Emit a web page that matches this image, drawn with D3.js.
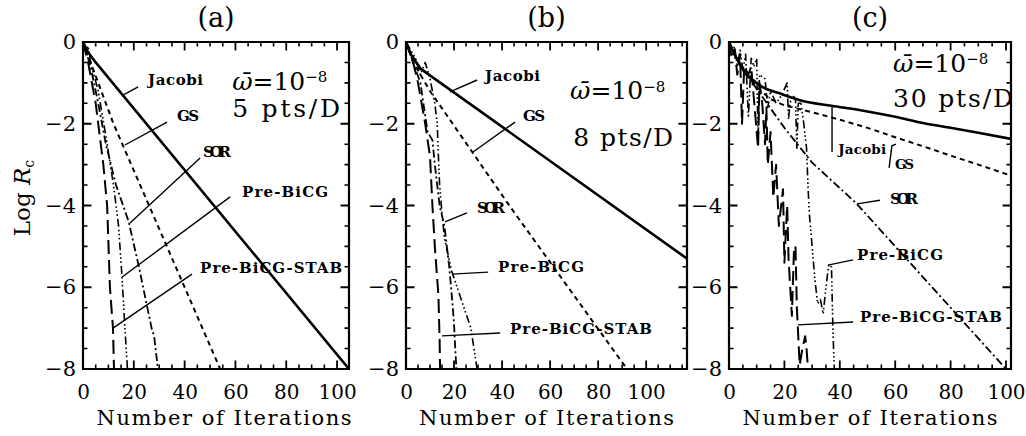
<!DOCTYPE html>
<html><head><meta charset="utf-8">
<script src="https://cdn.jsdelivr.net/npm/d3@7"></script>
<style>body{margin:0;background:#fff}svg text{font-family:"DejaVu Serif",serif;fill:#000}</style>
</head><body><svg id="c" width="1026" height="436"></svg>
<script>
// ---------- DATA ([iteration, log Rc]) ----------
const panelTitles = ["(a)", "(b)", "(c)"];
const resolutions = ["5 pts/D", "8 pts/D", "30 pts/D"];
const xMaxes = [104.7, 117, 101.8];
const xTickValues = [0, 20, 40, 60, 80, 100];
const yTickValues = [0, -2, -4, -6, -8];
const methodNames = ["Jacobi", "GS", "SOR", "Pre-BiCG", "Pre-BiCG-STAB"];

// panel (a) 5 pts/D
const jacobiA = [[0,0],[2,-0.25],[5,-0.5],[104.7,-8]];
const gsA     = [[0,0],[3,-0.5],[12,-2],[26,-4],[54,-8]];
const sorA    = [[0,0],[3,-0.6],[6,-1.5],[9,-2.5],[13,-3.5],[18,-4.4],[22,-5.5],[27,-7.0],[28,-7.2],[29.5,-8]];
const bicgA   = [[0,0],[1,-0.2],[2,-0.1],[3,-0.5],[6,-1.2],[9,-2.3],[12,-3.5],[14,-4.5],[15.3,-5.7],[16.5,-7],[17.5,-8]];
const stabA   = [[0,0],[2,-0.5],[5,-1.5],[8,-3],[9.5,-4],[10.6,-6],[11.8,-7],[12.2,-8]];

// panel (b) 8 pts/D
const jacobiB = [[0,0],[2,-0.3],[6,-0.65],[117,-5.3]];
const gsB     = [[0,0],[3,-0.5],[10,-1.2],[43,-4],[92,-8]];
const sorB    = [[0,0],[3,-0.5],[6,-1.0],[8,-1.8],[9,-2.2],[11,-2.4],[12,-3],[14,-4],[16,-4.5],[18,-5.5],[19.5,-6.5],[20,-6.9],[20.5,-7.5],[21,-8]];
const bicgB   = [[0,0],[4,-0.4],[6,-0.8],[8,-0.5],[10,-0.9],[12,-1.5],[13,-2],[13.5,-2.8],[14,-3.5],[15,-4.2],[16,-4.8],[19,-5.6],[23,-6.3],[27,-7],[29.6,-8]];
const stabB   = [[0,0],[3,-0.5],[5,-1],[8,-2],[10,-2.8],[11,-4],[12,-5],[13.5,-6.2],[14,-7.3],[14.2,-8]];

// panel (c) 30 pts/D
const jacobiC = [[0,0],[2,-0.3],[4,-0.55],[6,-0.78],[9,-0.95],[12,-1.1],[18,-1.25],[27,-1.45],[37,-1.56],[50,-1.7],[60,-1.83],[70,-1.98],[80,-2.1],[90,-2.22],[101.8,-2.37]];
const gsC     = [[0,0],[3,-0.4],[6,-0.75],[10,-1.1],[15,-1.4],[20,-1.55],[30,-1.72],[40,-1.9],[50,-2.1],[60,-2.33],[70,-2.55],[80,-2.78],[90,-3.0],[101.8,-3.27]];
const sorC    = [[0,0],[2,-0.3],[5,-0.65],[10,-1.15],[20,-2.1],[30,-2.95],[46,-3.95],[60,-5.0],[80,-6.5],[100,-8]];
const bicgC   = [[0,0],[1,-0.3],[2,-0.1],[3,-0.6],[4,-0.2],[5,-0.7],[6,-0.3],[7,-1.85],[8,-0.4],[9,-0.6],[10,-0.4],[10.5,-2.5],[11,-0.8],[13,-0.9],[14,-1.6],[15,-1.2],[17,-1.5],[19,-1.3],[21,-1.0],[21.5,-1.9],[22,-1.5],[23,-1.3],[24,-1.4],[24.5,-2.6],[25,-1.5],[26,-1.5],[27,-2.0],[28,-2.6],[28.5,-3.5],[29,-4.2],[30,-5],[31,-5.8],[32,-6.4],[33,-6.3],[34,-6.65],[35,-6.0],[36,-5.45],[37,-5.5],[37.5,-7],[38,-8]];
const stabC   = [[0,0],[1,-0.4],[2,-0.2],[3,-0.8],[4,-0.3],[4.7,-2.0],[5.5,-0.6],[7,-0.8],[8,-0.6],[10.5,-2.6],[11,-1.0],[12,-1.5],[13,-2.5],[13.5,-1.6],[14,-3.0],[15,-2.2],[16,-3.8],[17,-3.0],[18,-4.5],[19.5,-3.6],[20,-5.4],[21,-4.0],[21.5,-5.3],[22.7,-6.7],[23.5,-5.0],[24,-5.0],[24.5,-6.5],[25.5,-7.9],[26.5,-7.5],[27.5,-7.2],[28,-7.5],[28.5,-8]];

const seriesA = [jacobiA, gsA, sorA, bicgA, stabA];
const seriesB = [jacobiB, gsB, sorB, bicgB, stabB];
const seriesC = [jacobiC, gsC, sorC, bicgC, stabC];

// ---------- ANNOTATIONS (data coordinates) ----------
const notesA = [
  {t:0, at:[25.6,-0.93], lead:[[21.7,-1.10],[15.7,-1.30]]},
  {t:1, at:[37,-1.79],   lead:[[33.1,-1.96],[16.5,-2.52]]},
  {t:2, at:[47.2,-2.69], lead:[[46.1,-2.84],[18.5,-4.43]]},
  {t:3, at:[62.6,-3.65], lead:[[57.9,-3.79],[15.4,-5.75]]},
  {t:4, at:[46.1,-5.53], lead:[[42.9,-5.68],[11.8,-7.0]]}
];
const notesB = [
  {t:0, at:[32.9,-0.81], lead:[[29.6,-0.93],[18.3,-1.22]]},
  {t:1, at:[48.75,-1.79],lead:[[45.4,-1.96],[27.9,-2.69]]},
  {t:2, at:[29.6,-4.04], lead:[[25.4,-4.18],[16.25,-4.40]]},
  {t:3, at:[38.3,-5.5],  lead:[[34.2,-5.63],[19.2,-5.68]]},
  {t:4, at:[43.3,-7.0],  lead:[[39.2,-7.12],[15,-7.19]]}
];
const notesC = [
  {t:0, at:[39.4,-2.62], lead:[[37.2,-2.69],[37.2,-1.54]]},
  {t:1, at:[59.9,-2.98], lead:[[57.8,-3.08],[58.8,-2.54],[60.3,-2.5]]},
  {t:2, at:[58.1,-3.82], lead:[[54.5,-3.87],[46.2,-3.96]]},
  {t:3, at:[46.2,-5.21], lead:[[44.8,-5.33],[35.7,-5.46]]},
  {t:4, at:[47.3,-6.73], lead:[[44.8,-6.85],[24.9,-6.92]]}
];
const omegaAt = [[58.7,-0.93],[68.3,-1.17],[59.2,-0.49]];
const resAt   = [[58.7,-1.61],[69.6,-2.32],[59.2,-1.37]];

// ---------- LAYOUT / STYLE ----------
const lefts = [83, 406, 729], rights = [349, 687, 1011];
const plotTop = 42, plotBottom = 369;
const lineStyle = [
  {dash:null, w:2.6},
  {dash:"5,4", w:2},
  {dash:"8,3,2,3", w:1.8},
  {dash:"8,3,1.6,2.4,1.6,2.4,1.6,3", w:1.6},
  {dash:"14,6", w:2}
];
const labelLen = {"Jacobi":55, "GS":22, "SOR":28, "Pre-BiCG":86, "Pre-BiCG-STAB":142};
const allSeries = [seriesA, seriesB, seriesC];
const allNotes = [notesA, notesB, notesC];

const svg = d3.select("#c");
const fmt = d => d < 0 ? "\u2212" + (-d) : String(d);

for (let p = 0; p < 3; p++) {
  const L = lefts[p], R = rights[p];
  const xMax = xMaxes[p];
  const x = d3.scaleLinear().domain([0, xMax]).range([L, R]);
  const y = d3.scaleLinear().domain([-8, 0]).range([plotBottom, plotTop]);
  const g = svg.append("g");
  const defs = svg.append("defs");
  const clipId = "clip" + p;
  defs.append("clipPath").attr("id", clipId).append("rect")
    .attr("x", L).attr("y", plotTop).attr("width", R - L).attr("height", plotBottom - plotTop);

  const dataLine = d3.line().x(d => x(d[0])).y(d => y(d[1]));
  const lines = g.append("g").attr("clip-path", `url(#${clipId})`);

  allSeries[p].forEach((s, i) => {
    const line = d3.line().x(d => x(d[0])).y(d => y(d[1]))
      .curve(i === 0 && p === 2 ? d3.curveMonotoneX : d3.curveLinear);
    lines.append("path").datum(s)
      .attr("d", line)
      .attr("fill", "none").attr("stroke", "#000")
      .attr("stroke-width", lineStyle[i].w)
      .attr("stroke-dasharray", lineStyle[i].dash)
      .attr("stroke-linejoin", "round");
  });

  // frame as a filled ring (outer minus inner box), from the scales
  const x0 = x(0), x1 = x(xMax), y0 = y(0), y1 = y(-8), hw = 1.1;
  const ring = d3.path();
  ring.rect(x0 - hw, y0 - hw, x1 - x0 + 2 * hw, y1 - y0 + 2 * hw);
  ring.rect(x0 + hw, y0 + hw, x1 - x0 - 2 * hw, y1 - y0 - 2 * hw);
  g.append("path").attr("d", ring.toString()).attr("fill", "#000").attr("fill-rule", "evenodd").attr("stroke", "none");

  // inward ticks on all four sides, as thin filled bars
  const xMinor = d3.range(0, xMax + 0.001, 5);
  const yMinor = d3.range(-8, 0.001, 0.5);
  const tp = d3.path();
  const addTicks = (xv, yv, len, w) => {
    xv.forEach(v => { tp.rect(x(v) - w / 2, y1 - len, w, len); tp.rect(x(v) - w / 2, y0, w, len); });
    yv.forEach(v => { tp.rect(x0, y(v) - w / 2, len, w); tp.rect(x1 - len, y(v) - w / 2, len, w); });
  };
  addTicks(xMinor, yMinor, 4.5, 1.6);
  addTicks(xTickValues, yTickValues, 8.5, 1.8);
  g.append("path").attr("d", tp.toString()).attr("fill", "#000").attr("stroke", "none");

  // tick labels via d3 axes
  const xb = g.append("g").attr("transform", `translate(0,${plotBottom})`)
    .call(d3.axisBottom(x).tickValues(xTickValues).tickSize(0).tickPadding(16).tickFormat(fmt));
  const yl = g.append("g").attr("transform", `translate(${L},0)`)
    .call(d3.axisLeft(y).tickValues(yTickValues).tickSize(0).tickPadding(7).tickFormat(fmt));
  xb.select(".domain").remove();
  yl.select(".domain").remove();
  xb.selectAll("text").style("font-size", "20px").style("font-family", "DejaVu Serif").attr("fill", "#000");
  yl.selectAll("text").style("font-size", "21px").style("font-family", "DejaVu Serif").attr("fill", "#000");

  // title
  g.append("text").attr("x", (L + R) / 2).attr("y", 27)
    .attr("text-anchor", "middle").style("font-size", "27px").text(panelTitles[p]);

  // x label
  g.append("text").attr("x", (L + R) / 2 + (p === 0 ? 8 : 0)).attr("y", 425)
    .attr("text-anchor", "middle").style("font-size", "21px")
    .attr("textLength", 255).attr("lengthAdjust", "spacing").text("Number of Iterations");

  // omega & resolution
  const om = g.append("text").attr("x", x(omegaAt[p][0])).attr("y", y(omegaAt[p][1])).attr("dy", "0.38em")
    .style("font-size", "25px");
  om.append("tspan").style("font-style", "italic").text("\u03C9\u0304");
  om.append("tspan").text("=10");
  om.append("tspan").attr("dy", "-0.5em").style("font-size", "15px").text("\u22128");
  g.append("text").attr("x", x(resAt[p][0])).attr("y", y(resAt[p][1])).attr("dy", "0.38em")
    .style("font-size", "25px").attr("textLength", p === 2 ? 120 : (p === 0 ? 108 : 100)).attr("lengthAdjust", "spacing")
    .text(resolutions[p]);

  // method annotations
  allNotes[p].forEach(n => {
    const name = methodNames[n.t];
    const small = p === 2 && (n.t === 0 || n.t === 1);
    g.append("text").attr("x", x(n.at[0])).attr("y", y(n.at[1])).attr("dy", "0.36em")
      .style("font-size", small ? "13.5px" : "15px").style("font-weight", "bold")
      .attr("textLength", small ? Math.round(labelLen[name] * 0.88) : labelLen[name]).attr("lengthAdjust", "spacing")
      .text(name);
    g.append("path").datum(n.lead).attr("d", dataLine)
      .attr("fill", "none").attr("stroke", "#000").attr("stroke-width", 1.4);
  });
}

// y-axis title
const yt = svg.append("text").attr("transform", "translate(30,198) rotate(-90)")
  .attr("text-anchor", "middle").style("font-size", "23px");
yt.append("tspan").text("Log ");
yt.append("tspan").style("font-style", "italic").text("R");
yt.append("tspan").attr("dy", "0.3em").style("font-size", "14px").text("c");
</script></body></html>
